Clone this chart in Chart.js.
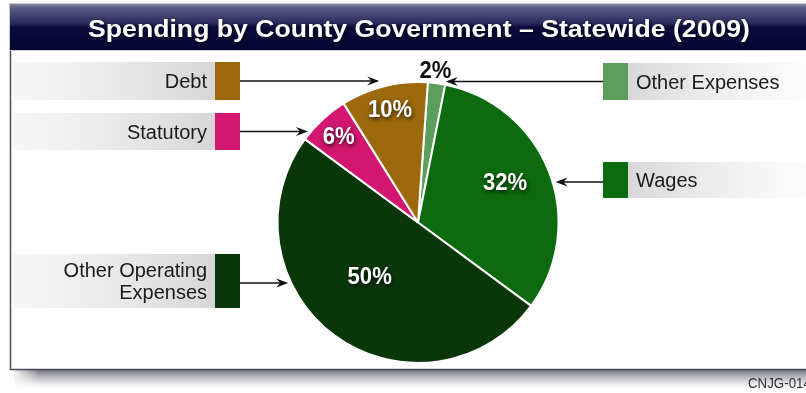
<!DOCTYPE html>
<html>
<head>
<meta charset="utf-8">
<script src="https://cdn.jsdelivr.net/npm/chart.js@4"></script>
<style>
  html, body { margin: 0; padding: 0; background: #fff; }
  #grafico { display: block; }
</style>
</head>
<body>
<canvas id="grafico" width="806" height="393"></canvas>
<script>
// datos del grafico (orden horario desde arriba)
const categorias = ["Other Expenses", "Wages", "Other Operating Expenses", "Statutory", "Debt"];
const porcentajes = [2, 32, 50, 6, 10];
const colores = ["#5c9f5c", "#0d6a0e", "#0a370a", "#d3166f", "#9c6a0c"];

const titulo = "Spending by County Government \u2013 Statewide (2009)";
const codigo = "CNJG-014";

// filas de la leyenda: lado, indice de la categoria, caja y lineas de texto
const filas = [
  { lado: "izq", idx: 4, top: 62, alto: 38, lineas: ["Debt"], angulo: 344 },
  { lado: "izq", idx: 3, top: 113, alto: 37, lineas: ["Statutory"] },
  { lado: "izq", idx: 2, top: 254, alto: 54, lineas: ["Other Operating", "Expenses"], dy: 2 },
  { lado: "der", idx: 0, top: 63, alto: 37, lineas: ["Other Expenses"], angulo: 11.4 },
  { lado: "der", idx: 1, top: 162, alto: 36, lineas: ["Wages"], dy: 2 }
];

// posicion de las etiquetas de porcentaje (fraccion del radio, desvio en grados)
const posEtiquetas = [
  { f: 1.08, d: -1, color: "#111", sombra: false },
  { f: 0.68, d: -3, color: "#fff", sombra: true },
  { f: 0.52, d: 5, color: "#fff", sombra: true },
  { f: 0.83, d: 0, color: "#fff", sombra: true },
  { f: 0.82, d: 0, color: "#fff", sombra: true }
];

function flecha(ctx, x1, y, x2) {
  const dir = x2 > x1 ? 1 : -1;
  ctx.strokeStyle = "#111";
  ctx.lineWidth = 1.3;
  ctx.beginPath();
  ctx.moveTo(x1, y);
  ctx.lineTo(x2 - dir * 6, y);
  ctx.stroke();
  ctx.fillStyle = "#111";
  ctx.beginPath();
  ctx.moveTo(x2, y);
  ctx.lineTo(x2 - dir * 12, y - 4.5);
  ctx.lineTo(x2 - dir * 8, y);
  ctx.lineTo(x2 - dir * 12, y + 4.5);
  ctx.closePath();
  ctx.fill();
}

function textoAncho(ctx, txt, x, y, escala, align) {
  ctx.save();
  ctx.translate(x, y);
  ctx.scale(escala, 1);
  ctx.textAlign = align;
  ctx.fillText(txt, 0, 0);
  ctx.restore();
}

const marco = {
  id: "marco",
  beforeDraw(chart) {
    const ctx = chart.ctx;
    const W = chart.width;
    ctx.save();
    ctx.fillStyle = "#fff";
    ctx.fillRect(0, 0, W, chart.height);

    // sombra inferior del panel
    const gs = ctx.createLinearGradient(0, 370, 0, 391);
    gs.addColorStop(0, "rgba(80,80,95,0.8)");
    gs.addColorStop(0.5, "rgba(140,140,150,0.4)");
    gs.addColorStop(1, "rgba(255,255,255,0)");
    ctx.fillStyle = gs;
    ctx.fillRect(14, 370, W - 14, 21);
    const gsl = ctx.createLinearGradient(10, 0, 40, 0);
    gsl.addColorStop(0, "rgba(255,255,255,1)");
    gsl.addColorStop(1, "rgba(255,255,255,0)");
    ctx.fillStyle = gsl;
    ctx.fillRect(10, 370, 30, 21);

    // panel blanco con borde
    ctx.fillStyle = "#fff";
    ctx.fillRect(10, 4, W, 366);
    ctx.strokeStyle = "#4a4a5e";
    ctx.lineWidth = 1.5;
    ctx.beginPath();
    ctx.moveTo(10.5, 50);
    ctx.lineTo(10.5, 369.5);
    ctx.lineTo(W, 369.5);
    ctx.stroke();

    // barra del titulo
    const gt = ctx.createLinearGradient(0, 4, 0, 50);
    gt.addColorStop(0, "#8a8aa8");
    gt.addColorStop(0.08, "#5c5c86");
    gt.addColorStop(0.42, "#2a2a5c");
    gt.addColorStop(0.5, "#0b0b3e");
    gt.addColorStop(1, "#050530");
    ctx.fillStyle = gt;
    ctx.fillRect(10, 4, W, 46);
    ctx.strokeStyle = "#c8c8d4";
    ctx.lineWidth = 1;
    ctx.strokeRect(9.5, 3.5, W, 47);

    ctx.font = "bold 24px 'Liberation Sans', Arial, sans-serif";
    const ancho = ctx.measureText(titulo).width;
    ctx.shadowColor = "rgba(0,0,0,0.8)";
    ctx.shadowBlur = 3;
    ctx.shadowOffsetX = 1;
    ctx.shadowOffsetY = 1;
    ctx.fillStyle = "#fff";
    textoAncho(ctx, titulo, 419, 37, 662 / ancho, "center");
    ctx.shadowColor = "transparent";

    // codigo de la lamina
    ctx.font = "14px 'Liberation Sans', Arial, sans-serif";
    ctx.fillStyle = "#333";
    textoAncho(ctx, codigo, 748, 388, 0.95, "left");

    // bandas grises de la leyenda
    filas.forEach(f => {
      let g;
      if (f.lado === "izq") {
        g = ctx.createLinearGradient(14, 0, 215, 0);
        g.addColorStop(0, "rgba(238,238,238,0.5)");
        g.addColorStop(1, "#d6d6d6");
        ctx.fillStyle = g;
        ctx.fillRect(14, f.top, 201, f.alto);
      } else {
        g = ctx.createLinearGradient(628, 0, W, 0);
        g.addColorStop(0, "#d8d8d8");
        g.addColorStop(1, "rgba(250,250,250,0.6)");
        ctx.fillStyle = g;
        ctx.fillRect(628, f.top, W - 628, f.alto);
      }
    });
    ctx.restore();
  },
  afterDatasetsDraw(chart) {
    const ctx = chart.ctx;
    const meta = chart.getDatasetMeta(0);
    const a0 = meta.data[0];
    const cx = a0.x, cy = a0.y, r = a0.outerRadius;
    ctx.save();

    // cajas de color, textos y flechas
    filas.forEach(f => {
      const yc = f.top + f.alto / 2;
      const bx = f.lado === "izq" ? 215 : 603;
      ctx.fillStyle = colores[f.idx];
      ctx.fillRect(bx, f.top, 25, f.alto);

      ctx.font = "20px 'Liberation Sans', Arial, sans-serif";
      ctx.fillStyle = "#1a1a1a";
      ctx.textAlign = f.lado === "izq" ? "right" : "left";
      const tx = f.lado === "izq" ? 207 : 636;
      const n = f.lineas.length;
      f.lineas.forEach((l, i) => {
        ctx.fillText(l, tx, yc + 7 + (i - (n - 1) / 2) * 22);
      });

      const ya = yc + (f.dy || 0);
      let punta;
      if (f.angulo !== undefined) {
        punta = cx + r * Math.sin(f.angulo * Math.PI / 180);
      } else {
        const dx = Math.sqrt(Math.max(r * r - (ya - cy) * (ya - cy), 0));
        punta = f.lado === "izq" ? cx - dx - 3 : cx + dx + 3;
      }
      if (f.lado === "izq") flecha(ctx, 240, ya, punta);
      else flecha(ctx, 603, ya, punta);
    });

    // porcentajes sobre cada porcion
    meta.data.forEach((arc, i) => {
      const p = posEtiquetas[i];
      const medio = (arc.startAngle + arc.endAngle) / 2 + p.d * Math.PI / 180;
      const x = cx + Math.cos(medio) * r * p.f;
      const y = cy + Math.sin(medio) * r * p.f;
      ctx.save();
      ctx.font = "bold 24px 'Liberation Sans', Arial, sans-serif";
      ctx.textBaseline = "middle";
      if (p.sombra) {
        ctx.shadowColor = "rgba(0,0,0,0.75)";
        ctx.shadowBlur = 4;
        ctx.shadowOffsetX = 1;
        ctx.shadowOffsetY = 2;
      }
      ctx.fillStyle = p.color;
      textoAncho(ctx, porcentajes[i] + "%", x, y, 0.92, "center");
      ctx.restore();
    });
    ctx.restore();
  }
};

new Chart(document.getElementById("grafico"), {
  type: "pie",
  data: {
    labels: categorias,
    datasets: [{
      data: porcentajes,
      backgroundColor: colores,
      borderColor: "#fff",
      borderWidth: 2
    }]
  },
  options: {
    responsive: false,
    devicePixelRatio: 1,
    animation: false,
    rotation: 4,
    layout: { padding: { left: 276.5, right: 246.5, top: 81, bottom: 29 } },
    plugins: {
      legend: { display: false },
      tooltip: { enabled: false }
    }
  },
  plugins: [marco]
});
</script>
</body>
</html>
